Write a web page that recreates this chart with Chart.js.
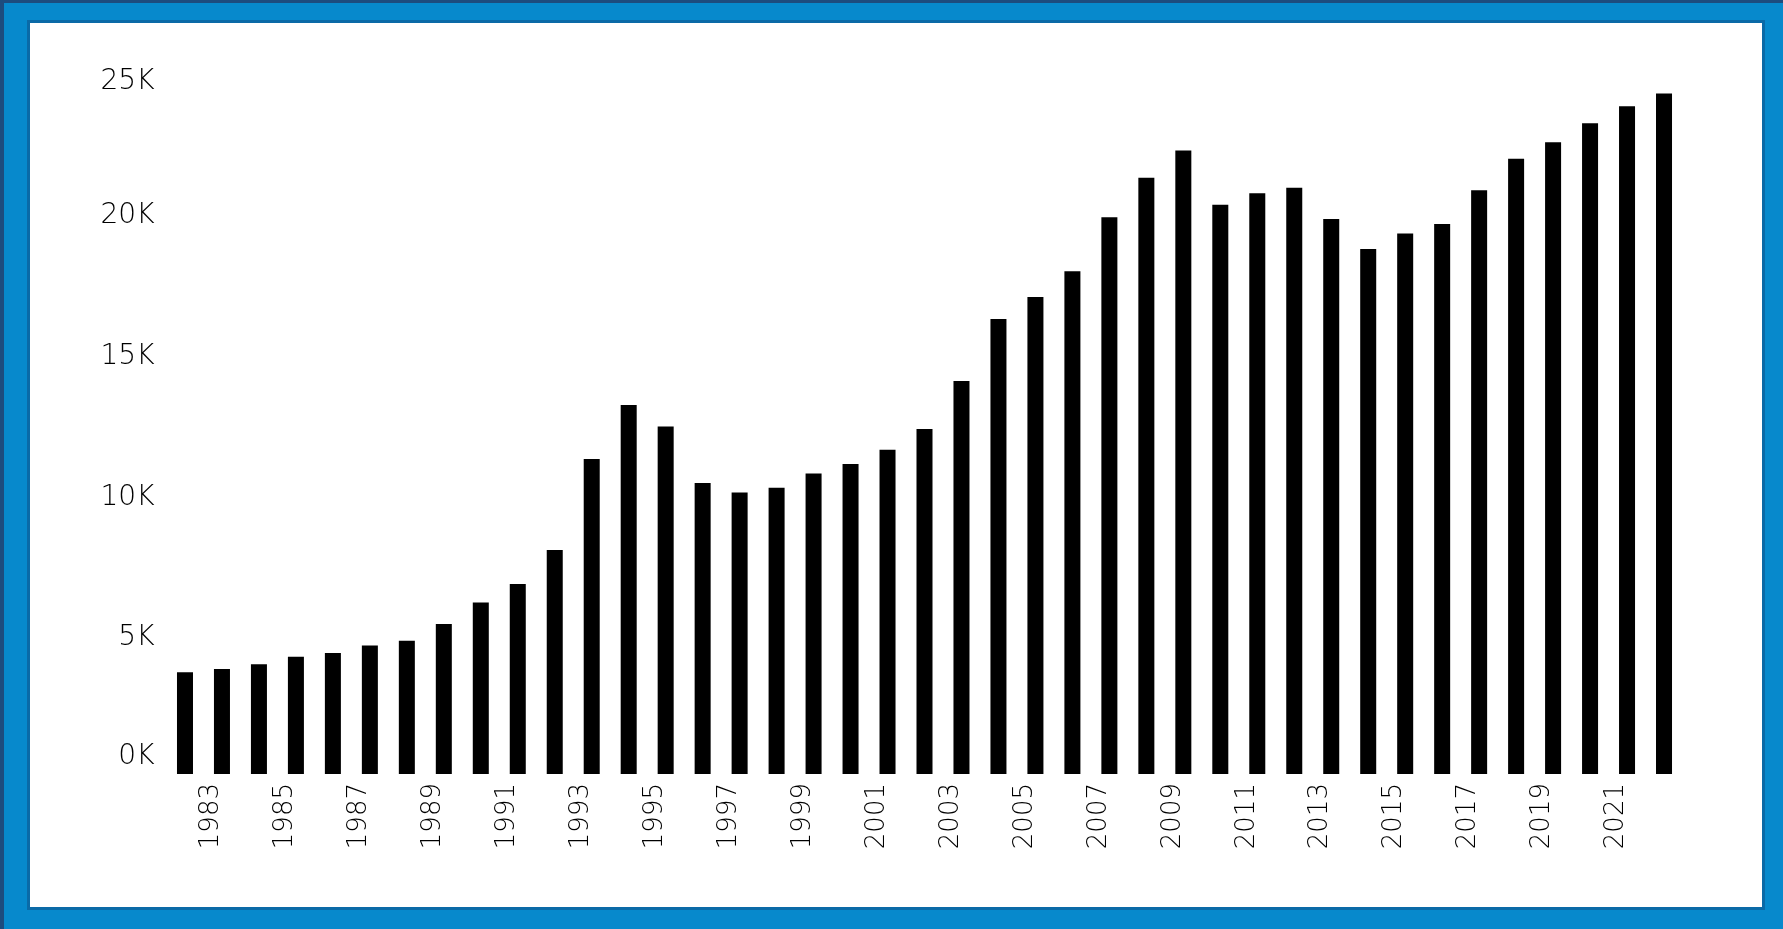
<!DOCTYPE html>
<html>
<head>
<meta charset="utf-8">
<script src="https://cdn.jsdelivr.net/npm/chart.js@4/dist/chart.umd.min.js"></script>
<style>
  html, body {
    margin: 0;
    padding: 0;
  }
  body {
    width: 1783px;
    height: 929px;
    background: #0789cc;
    border-left: 4px solid #1d4c7e;
    border-top: 3px solid #1d4c7e;
    box-sizing: border-box;
    overflow: hidden;
  }
  #panel {
    position: absolute;
    left: 27px;
    top: 20px;
    width: 1732px;
    height: 884px;
    background: #fff;
    border: 3px solid #0a6aa7;
  }
</style>
</head>
<body>
<div id="panel">
  <canvas id="myChart"></canvas>
</div>
<script>
const years = [
  '1982', '1983', '1984', '1985', '1986', '1987', '1988', '1989', '1990', '1991',
  '1992', '1993', '1994', '1995', '1996', '1997', '1998', '1999', '2000', '2001',
  '2002', '2003', '2004', '2005', '2006', '2007', '2008', '2009', '2010', '2011',
  '2012', '2013', '2014', '2015', '2016', '2017', '2018', '2019', '2020', '2021',
  '2022'
];

const counts = [
  3620, 3730, 3900, 4170, 4300, 4570, 4740, 5330, 6100, 6760,
  7970, 11200, 13120, 12360, 10350, 10010, 10180, 10690, 11020, 11530,
  12270, 13980, 16180, 16960, 17880, 19800, 21200, 22170, 20240, 20650,
  20850, 19740, 18670, 19220, 19560, 20760, 21880, 22470, 23140, 23750,
  24200
];

const yTicks = [0, 5000, 10000, 15000, 20000, 25000];

function yLabel(value) {
  const text = value / 1000 + 'K';
  // first and last labels sit inside the plot like in the original
  if (value === yTicks[0]) return [text, '', ''];
  if (value === yTicks[yTicks.length - 1]) return ['', text];
  return text;
}

function yFont(ctx) {
  const font = { family: 'DejaVu Sans', size: 28, weight: 200 };
  if (ctx.tick && ctx.tick.value === yTicks[0]) font.lineHeight = '21.5px';
  if (ctx.tick && ctx.tick.value === yTicks[yTicks.length - 1]) font.lineHeight = '13px';
  return font;
}

function generateChart(labels, data) {
  const ctx = document.getElementById('myChart').getContext('2d');
  const chart = new Chart(ctx, {
    type: 'bar',
    data: {
      labels: labels,
      datasets: [
        {
          data: data,
          backgroundColor: '#000',
          borderWidth: 0,
          barPercentage: 0.433,
          categoryPercentage: 1
        }
      ]
    },
    options: {
      responsive: true,
      maintainAspectRatio: false,
      animation: false,
      layout: { padding: { top: 48, right: 79.5, left: 0, bottom: 0 } },
      plugins: {
        legend: { display: false },
        tooltip: { enabled: false }
      },
      scales: {
        x: {
          grid: { display: false, drawTicks: false },
          border: { display: false },
          afterFit: s => { s.height = 133; },
          ticks: {
            autoSkip: false,
            minRotation: 90,
            maxRotation: 90,
            padding: 9,
            labelOffset: -10.5,
            color: '#000',
            font: { family: 'DejaVu Sans', size: 26, weight: 200 },
            callback: (value, index) => index % 2 === 1 ? labels[index] : ''
          }
        },
        y: {
          min: yTicks[0],
          max: yTicks[yTicks.length - 1],
          grid: { display: false, drawTicks: false },
          border: { display: false },
          afterFit: s => { s.width = 136.5; },
          afterBuildTicks: s => { s.ticks = yTicks.map(v => ({ value: v })); },
          ticks: {
            padding: 12,
            labelOffset: 4.5,
            color: '#000',
            font: yFont,
            callback: value => yLabel(value)
          }
        }
      }
    }
  });
}

generateChart(years, counts);
</script>
</body>
</html>
